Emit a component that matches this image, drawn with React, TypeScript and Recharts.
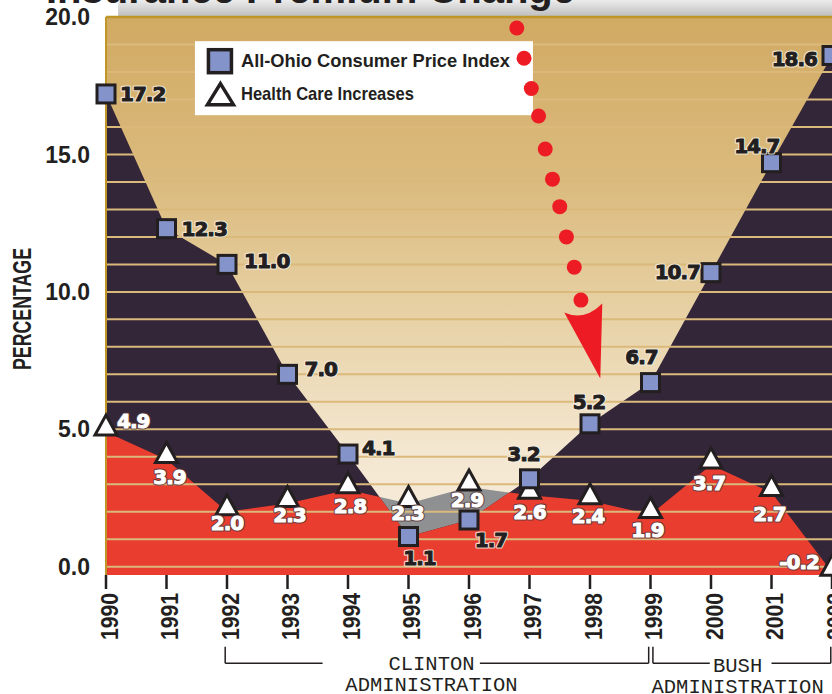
import React from 'react';
import {
  ComposedChart,
  Area,
  Scatter,
  XAxis,
  YAxis,
  CartesianGrid,
  ReferenceLine,
  ReferenceArea,
  ReferenceDot,
  Label,
} from 'recharts';

// values
const years = [1990, 1991, 1992, 1993, 1994, 1995, 1996, 1997, 1998, 1999, 2000, 2001, 2002];
const cpiIndex = [17.2, 12.3, 11.0, 7.0, 4.1, 1.1, 1.7, 3.2, 5.2, 6.7, 10.7, 14.7, 18.6];
const healthCare = [4.9, 3.9, 2.0, 2.3, 2.8, 2.3, 2.9, 2.6, 2.4, 1.9, 3.7, 2.7, -0.2];
const yTicks = [0, 5, 10, 15, 20];
const gridValues = [0, 1, 2, 3, 4, 5, 6, 7, 8, 9, 10, 11, 12, 13, 14, 15, 16, 17, 18, 19];

// the dotted red arrow (decoration drawn in data units)
const arrowYears = [1996.79, 1996.91, 1997.03, 1997.15, 1997.26, 1997.38, 1997.5, 1997.61, 1997.74, 1997.85];
const arrowValues = [19.6, 18.5, 17.4, 16.4, 15.2, 14.1, 13.1, 12.0, 10.9, 9.7];
const arrowTipYear = 1998.17;
const arrowTipValue = 6.85;

const eras = [
  { name: 'CLINTON', from: 1991.97, to: 1998.97, gapFrom: 1993.58, gapTo: 1996.18, center: 1995.38 },
  { name: 'BUSH', from: 1999.04, to: 2001.98, gapFrom: 1999.98, gapTo: 2001.0, center: 2000.44 },
];
const eraLineY = -3.51;
const eraTickY = -2.91;

// top-left corner of the legend box, in data units
const legendAt = { year: 1991.47, value: 19.12 };

const rows = years.map((year, i) => ({ year, cpi: cpiIndex[i], hc: healthCare[i] }));
const arrowDots = arrowYears.map((year, i) => ({ year, v: arrowValues[i] }));
const arrowTip = [{ year: arrowTipYear, v: arrowTipValue }];

// label placement next to each marker: [dx, dy, anchor]
const cpiLabelPos: [number, number, string][] = [
  [14, 7, 'start'], [15, 7, 'start'], [17, 4, 'start'], [17, 2, 'start'], [14, 1, 'start'],
  [11, 28, 'middle'], [22, 27, 'middle'], [-6, -18, 'middle'], [-1, -15, 'middle'],
  [-9, -19, 'middle'], [-11, 6, 'end'], [8, -10, 'end'], [-15, 11, 'end'],
];
const hcLabelPos: [number, number, string][] = [
  [11, -4, 'start'], [3, 24, 'middle'], [0, 18, 'middle'], [2, 18, 'middle'], [2, 23, 'middle'],
  [-1, 16, 'middle'], [-2, 20, 'middle'], [0, 24, 'middle'], [-2, 22, 'middle'],
  [-3, 22, 'middle'], [-2, 25, 'middle'], [-2, 28, 'middle'], [-13, -3, 'end'],
];

const INK = '#231f20';
const PURPLE = '#332638';
const RED = '#e83d2f';
const GREY = '#8f9092';
const GOLD = '#c09628';
const ARROW_RED = '#ed1c24';
const SANS = '"Liberation Sans", Arial, sans-serif';
const HEAVY = '"DejaVu Sans", Verdana, sans-serif';
const MONO = '"Liberation Mono", "Courier New", monospace';

const cpiPix: { x: number; y: number }[] = [];

// the last cpi "dot" emits a clip path of the region under the cpi line
function CpiClipDot(props: any) {
  const { cx, cy, index, points } = props;
  cpiPix[index] = { x: cx, y: cy };
  if (index !== cpiIndex.length - 1) return <g key={`cd${index}`} />;
  const pts = points && points.length ? points.map((p: any) => ({ x: p.x, y: p.y })) : cpiPix;
  const poly =
    pts.map((p: any) => `${p.x},${p.y}`).join(' ') +
    ` ${pts[pts.length - 1].x},2000 ${pts[0].x},2000`;
  return (
    <clipPath key="cpiClip" id="cpiClip">
      <polygon points={poly} />
    </clipPath>
  );
}

// heavy label: halo underneath, then the glyphs thickened by their own stroke
function HeavyText({ x, y, anchor, fill, halo, children }: any) {
  const common = {
    x,
    y,
    textAnchor: anchor,
    fontFamily: HEAVY,
    fontWeight: 700,
    fontSize: 20,
    letterSpacing: -1,
  };
  return (
    <g>
      <text {...common} fill={halo} stroke={halo} strokeWidth={3.2} strokeLinejoin="round" opacity={0.85}>
        {children}
      </text>
      <text {...common} fill={fill} stroke={fill} strokeWidth={1} strokeLinejoin="round">
        {children}
      </text>
    </g>
  );
}

function SquareMark(props: any) {
  const { cx, cy, payload } = props;
  const i = years.indexOf(payload.year);
  const [dx, dy, anchor] = cpiLabelPos[i];
  return (
    <g>
      <rect x={cx - 9} y={cy - 9} width={18} height={18} fill="#8494cb" stroke={INK} strokeWidth={3} />
      <HeavyText x={cx + dx} y={cy + dy} anchor={anchor} fill={INK} halo="#f6efe4">
        {cpiIndex[i].toFixed(1)}
      </HeavyText>
    </g>
  );
}

function TriangleMark(props: any) {
  const { cx, cy, payload } = props;
  const i = years.indexOf(payload.year);
  const [dx, dy, anchor] = hcLabelPos[i];
  return (
    <g>
      <polygon
        points={`${cx},${cy - 17} ${cx + 11},${cy + 3} ${cx - 11},${cy + 3}`}
        fill="#ffffff"
        stroke={INK}
        strokeWidth={3}
      />
      <HeavyText x={cx + dx} y={cy + dy} anchor={anchor} fill="#ffffff" halo="#5a3a3c">
        {healthCare[i].toFixed(1)}
      </HeavyText>
    </g>
  );
}

function ArrowDot(props: any) {
  return <circle cx={props.cx} cy={props.cy} r={7.5} fill={ARROW_RED} />;
}

function ArrowHead(props: any) {
  const { cx, cy } = props;
  return (
    <path
      d={`M${cx},${cy} L${cx - 36},${cy - 66} Q${cx - 16},${cy - 57} ${cx + 2},${cy - 75} Z`}
      fill={ARROW_RED}
    />
  );
}

function YearTick(props: any) {
  const { x, y, payload } = props;
  return (
    <g transform={`translate(${x},${y})`}>
      <text
        transform="rotate(-90)"
        x={0}
        y={11.5}
        textAnchor="end"
        fontFamily={SANS}
        fontWeight={700}
        fontSize={23}
        textLength={47}
        lengthAdjust="spacingAndGlyphs"
        fill={INK}
      >
        {payload.value}
      </text>
    </g>
  );
}

function PercentLabel(props: any) {
  const { x, y, height } = props.viewBox;
  const cx = x + 31;
  const cy = y + height / 2 + 13;
  return (
    <text
      transform={`rotate(-90, ${cx}, ${cy})`}
      x={cx}
      y={cy}
      textAnchor="middle"
      fontFamily={SANS}
      fontWeight={700}
      fontSize={25}
      textLength={122}
      lengthAdjust="spacingAndGlyphs"
      fill={INK}
    >
      PERCENTAGE
    </text>
  );
}

function EraText(props: any, era: (typeof eras)[number]) {
  const { cx, cy } = props;
  const drop = era.name === 'BUSH' ? 2 : 0;
  return (
    <g>
      <text x={cx} y={cy + 7 + drop} textAnchor="middle" fontFamily={MONO} fontSize={20.5} fill={INK}>
        {era.name}
      </text>
      <text x={cx} y={cy + 28 + drop} textAnchor="middle" fontFamily={MONO} fontSize={20.5} fill={INK}>
        ADMINISTRATION
      </text>
    </g>
  );
}

// legend box, drawn inside the svg above the grid lines and below the arrow dots
function LegendBox(props: any) {
  const { cx, cy } = props;
  return (
    <g transform={`translate(${cx},${cy})`}>
      <rect x={0} y={0} width={338} height={74} fill="#ffffff" />
      <rect x={13.5} y={8.5} width={23} height={23} fill="#8494cb" stroke={INK} strokeWidth={3.5} />
      <text x={46} y={25.7} fontFamily={SANS} fontWeight={700} fontSize={19} fill={INK} textLength={269} lengthAdjust="spacingAndGlyphs">
        All-Ohio Consumer Price Index
      </text>
      <polygon points="25.5,42.5 38.5,63.5 12.5,63.5" fill="#ffffff" stroke={INK} strokeWidth={3.5} />
      <text x={46} y={59} fontFamily={SANS} fontWeight={700} fontSize={19} fill={INK} textLength={173} lengthAdjust="spacingAndGlyphs">
        Health Care Increases
      </text>
    </g>
  );
}

export default function App() {
  return (
    <div style={{ position: 'absolute', left: 0, top: 0, width: 832, height: 694, overflow: 'hidden', background: '#ffffff' }}>
      <style>{`.hc-red { clip-path: url(#cpiClip); }`}</style>
      <ComposedChart width={832} height={694} data={rows} margin={{ top: 17, right: 0, bottom: 0, left: 0 }}>
        <defs>
          <linearGradient id="bgGrad" x1="0" y1="0" x2="0" y2="1">
            <stop offset="0" stopColor="#d1aa63" />
            <stop offset="0.3" stopColor="#dbbb7e" />
            <stop offset="0.55" stopColor="#e8d3a8" />
            <stop offset="0.78" stopColor="#f4e7d1" />
            <stop offset="1" stopColor="#f7eee0" />
          </linearGradient>
          <linearGradient id="bandGrad" x1="0" y1="0" x2="0" y2="1">
            <stop offset="0" stopColor="#ececec" />
            <stop offset="1" stopColor="#bcbcbc" />
          </linearGradient>
        </defs>
        <CartesianGrid horizontal={false} vertical={false} fill="url(#bgGrad)" fillOpacity={1} />
        <XAxis
          dataKey="year"
          type="number"
          domain={[1990, 2002]}
          ticks={years}
          interval={0}
          tick={YearTick}
          tickSize={14}
          tickMargin={4}
          tickLine={{ stroke: INK, strokeWidth: 2.5 }}
          axisLine={false}
          height={119}
        />
        <YAxis
          type="number"
          domain={[-0.3, 20]}
          ticks={yTicks}
          tickFormatter={(v: number) => v.toFixed(1)}
          tick={{ fontFamily: SANS, fontWeight: 700, fontSize: 23, fill: INK }}
          tickLine={false}
          tickMargin={10}
          axisLine={{ stroke: GOLD, strokeWidth: 2 }}
          width={106}
        >
          <Label content={PercentLabel} />
        </YAxis>
        <Area
          type="linear"
          dataKey="hc"
          baseValue="dataMin"
          fill={GREY}
          fillOpacity={1}
          stroke="none"
          dot={false}
          activeDot={false}
          isAnimationActive={false}
        />
        <Area
          type="linear"
          dataKey="cpi"
          baseValue="dataMin"
          fill={PURPLE}
          fillOpacity={1}
          stroke="none"
          dot={CpiClipDot}
          activeDot={false}
          isAnimationActive={false}
        />
        <Area
          type="linear"
          dataKey="hc"
          className="hc-red"
          baseValue="dataMin"
          fill={RED}
          fillOpacity={1}
          stroke="none"
          dot={false}
          activeDot={false}
          isAnimationActive={false}
        />
        {gridValues.map((v) => (
          <ReferenceLine key={`g${v}`} y={v} stroke="#dab97b" strokeWidth={2} />
        ))}
        <ReferenceLine y={20} stroke={GOLD} strokeWidth={2.5} />
        <ReferenceArea x1={1990.2} x2={2002} y1={20} y2={20.62} fill="url(#bandGrad)" fillOpacity={1} stroke="none" ifOverflow="visible" />
        {eras.map((e) => (
          <React.Fragment key={e.name}>
            <ReferenceLine segment={[{ x: e.from, y: eraTickY }, { x: e.from, y: eraLineY }]} stroke={INK} strokeWidth={1.5} ifOverflow="visible" />
            <ReferenceLine segment={[{ x: e.to, y: eraTickY }, { x: e.to, y: eraLineY }]} stroke={INK} strokeWidth={1.5} ifOverflow="visible" />
            <ReferenceLine segment={[{ x: e.from, y: eraLineY }, { x: e.gapFrom, y: eraLineY }]} stroke={INK} strokeWidth={1.5} ifOverflow="visible" />
            <ReferenceLine segment={[{ x: e.gapTo, y: eraLineY }, { x: e.to, y: eraLineY }]} stroke={INK} strokeWidth={1.5} ifOverflow="visible" />
            <ReferenceDot x={e.center} y={eraLineY} r={0} ifOverflow="visible" shape={(p: any) => EraText(p, e)} />
          </React.Fragment>
        ))}
        <ReferenceDot x={legendAt.year} y={legendAt.value} r={0} ifOverflow="visible" shape={LegendBox} />
        <Scatter data={arrowDots} dataKey="v" shape={ArrowDot} isAnimationActive={false} />
        <Scatter data={arrowTip} dataKey="v" shape={ArrowHead} isAnimationActive={false} />
        <Scatter data={rows} dataKey="hc" shape={TriangleMark} isAnimationActive={false} />
        <Scatter data={rows} dataKey="cpi" shape={SquareMark} isAnimationActive={false} />
      </ComposedChart>
      <div
        style={{
          position: 'absolute',
          left: 46,
          top: -31,
          fontFamily: SANS,
          fontWeight: 700,
          fontSize: 40,
          lineHeight: '40px',
          color: INK,
          whiteSpace: 'nowrap',
        }}
      >
        Insurance Premium Change
      </div>
    </div>
  );
}
